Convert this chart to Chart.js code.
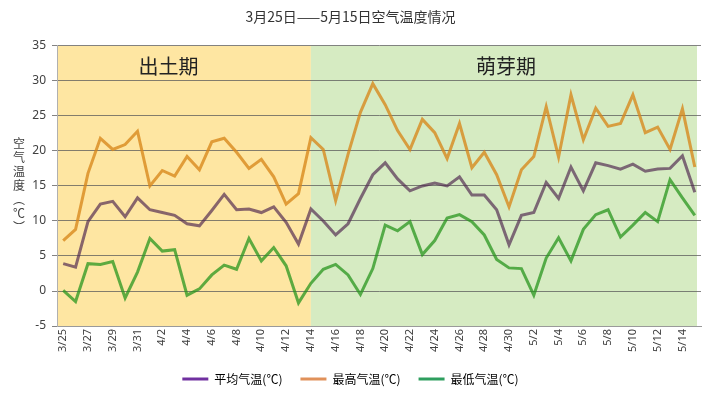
<!DOCTYPE html>
<html>
<head>
<meta charset="utf-8">
<script src="https://cdn.jsdelivr.net/npm/chart.js@4.4.0/dist/chart.umd.min.js"></script>
<style>
  html, body { margin: 0; padding: 0; background: #fff; }
  #wrap { width: 716px; height: 395px; }
</style>
</head>
<body>
<div id="wrap"><canvas id="tempChart"></canvas></div>
<script>
// dates 3/25 - 5/15
const dates = ['3/25','3/26','3/27','3/28','3/29','3/30','3/31',
  '4/1','4/2','4/3','4/4','4/5','4/6','4/7','4/8','4/9','4/10','4/11','4/12','4/13','4/14','4/15',
  '4/16','4/17','4/18','4/19','4/20','4/21','4/22','4/23','4/24','4/25','4/26','4/27','4/28','4/29','4/30',
  '5/1','5/2','5/3','5/4','5/5','5/6','5/7','5/8','5/9','5/10','5/11','5/12','5/13','5/14','5/15'];

const avgTemp = [3.9,3.4,9.9,12.4,12.8,10.6,13.3,11.6,11.2,10.8,9.6,9.3,11.5,13.8,11.6,11.7,11.2,12.0,
  9.8,6.7,11.7,10.0,8.0,9.6,13.2,16.6,18.3,16.0,14.3,15.0,15.4,15.0,16.3,13.7,13.7,
  11.6,6.6,10.8,11.2,15.5,13.2,17.7,14.3,18.3,17.9,17.4,18.1,17.1,17.4,17.5,19.3,14.1];

const maxTemp = [7.2,8.8,16.8,21.8,20.2,20.9,22.8,15.0,17.2,16.4,19.2,17.3,21.3,21.8,19.8,17.5,18.8,16.3,
  12.4,13.9,21.9,20.2,12.9,19.5,25.5,29.6,26.6,22.9,20.2,24.5,22.6,18.9,23.9,17.6,19.8,
  16.6,12.0,17.3,19.2,26.3,19.1,28.0,21.6,26.1,23.5,23.9,28.0,22.6,23.4,20.2,26.0,17.7];

const minTemp = [0.1,-1.5,3.9,3.8,4.2,-1.0,2.7,7.5,5.7,5.9,-0.6,0.3,2.3,3.7,3.1,7.5,4.3,6.2,
  3.6,-1.7,1.1,3.1,3.8,2.3,-0.5,3.2,9.4,8.6,9.9,5.2,7.2,10.4,10.9,9.9,8.0,
  4.5,3.3,3.2,-0.6,4.7,7.6,4.3,8.8,10.9,11.6,7.7,9.4,11.2,9.9,15.9,13.3,10.8];

const seriesNames = ['平均气温(℃)', '最高气温(℃)', '最低气温(℃)'];
const yTicks = [-5, 0, 5, 10, 15, 20, 25, 30, 35];

// growth stages: name, first date index
const stageNames = ['出土期', '萌芽期'];
const stageStart = 20; // 4/14

const lineColors = ['rgba(80,40,80,0.68)', 'rgba(215,135,25,0.78)', 'rgba(40,150,30,0.75)'];
const legendColors = ['#7030a0', '#e0915a', '#2e9e5e'];

Chart.defaults.font.family = "'Noto Sans CJK SC', 'Noto Sans', sans-serif";
Chart.defaults.color = '#404040';

// shaded stage backgrounds + stage names
const stagePlugin = {
  id: 'stages',
  beforeDraw(chart) {
    const { ctx, chartArea: a, scales: { x } } = chart;
    const split = x.getPixelForValue(stageStart);
    ctx.save();
    ctx.fillStyle = '#fee6a2';
    ctx.fillRect(a.left, a.top, split - a.left, a.bottom - a.top);
    ctx.fillStyle = '#d6ebc2';
    ctx.fillRect(split, a.top, a.right - split - 4, a.bottom - a.top);
    ctx.restore();
  },
  beforeDatasetsDraw(chart) {
    const { ctx, chartArea: a, scales: { x, y } } = chart;
    const split = x.getPixelForValue(stageStart);
    const ty = y.getPixelForValue(32);
    ctx.save();
    ctx.fillStyle = '#222';
    ctx.font = "20px 'Noto Sans CJK SC'";
    ctx.textAlign = 'center';
    ctx.textBaseline = 'middle';
    ctx.fillText(stageNames[0], x.getPixelForValue(8.5), ty);
    ctx.fillText(stageNames[1], (split + a.right) / 2, ty);
    ctx.restore();
  }
};

// vertical y-axis title, one upright character per line
const yTitlePlugin = {
  id: 'yTitle',
  afterDraw(chart) {
    const { ctx, chartArea: a } = chart;
    const chars = ['空', '气', '温', '度', '︵', '℃', '︶'];
    const step = 14;
    const mid = (a.top + a.bottom) / 2;
    ctx.save();
    ctx.fillStyle = '#404040';
    ctx.font = "12px 'Noto Sans CJK SC'";
    ctx.textAlign = 'center';
    ctx.textBaseline = 'middle';
    chars.forEach((c, i) => {
      ctx.fillText(c, 19, mid + (i - (chars.length - 1) / 2) * step);
    });
    ctx.restore();
  }
};

const ctx = document.getElementById('tempChart').getContext('2d');
new Chart(ctx, {
  type: 'line',
  data: {
    labels: dates,
    datasets: [avgTemp, maxTemp, minTemp].map((d, i) => ({
      label: seriesNames[i],
      data: d,
      borderColor: lineColors[i],
      backgroundColor: lineColors[i],
      borderWidth: 3,
      pointRadius: 0,
      tension: 0,
      fill: false
    }))
  },
  options: {
    responsive: true,
    maintainAspectRatio: false,
    animation: false,
    layout: { padding: { left: 0, right: 15, top: 0, bottom: 0 } },
    plugins: {
      title: {
        display: true,
        text: '3月25日——5月15日空气温度情况',
        font: { size: 14, weight: 'normal' },
        color: '#333',
        padding: { top: 8, bottom: 21 }
      },
      legend: {
        position: 'bottom',
        labels: {
          boxWidth: 26,
          boxHeight: 3,
          padding: 18,
          font: { size: 12 },
          color: '#404040',
          generateLabels(chart) {
            return chart.data.datasets.map((ds, i) => ({
              text: ds.label,
              fillStyle: legendColors[i],
              strokeStyle: legendColors[i],
              lineWidth: 0,
              datasetIndex: i
            }));
          }
        }
      },
      tooltip: { enabled: false }
    },
    scales: {
      x: {
        offset: true,
        grid: { display: false, drawTicks: false },
        border: { display: true, color: '#9a9a9a' },
        ticks: {
          autoSkip: false,
          maxRotation: 90,
          minRotation: 90,
          padding: 3,
          font: { size: 11, family: "'Noto Sans', sans-serif" },
          color: '#404040',
          callback: (v, i) => (i % 2 === 0 ? dates[i] : '')
        }
      },
      y: {
        min: -5,
        max: 35,
        afterFit(scale) { scale.width = 57; },
        afterBuildTicks(scale) { scale.ticks = yTicks.map(v => ({ value: v })); },
        grid: { color: 'rgba(90,90,90,0.75)', lineWidth: 1, tickLength: 5 },
        border: { display: true, color: '#b0b0b0' },
        ticks: {
          padding: 6,
          font: { size: 12, family: "'Noto Sans', sans-serif" },
          color: '#404040'
        }
      }
    }
  },
  plugins: [stagePlugin, yTitlePlugin]
});
</script>
</body>
</html>
